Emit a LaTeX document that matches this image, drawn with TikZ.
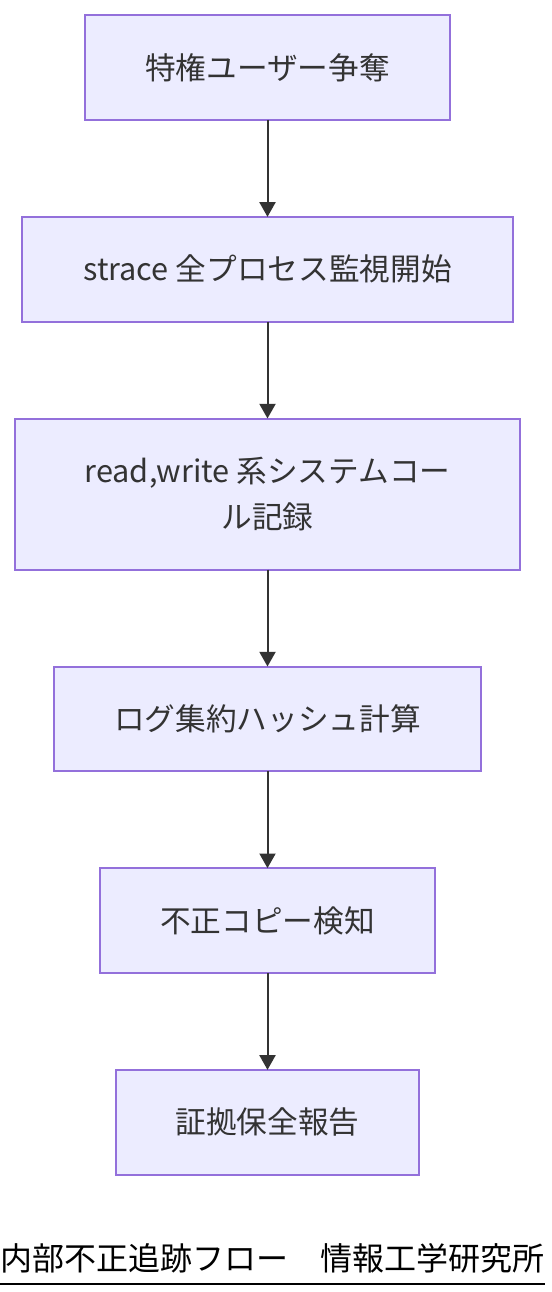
\documentclass[tikz,border=0pt]{standalone}
\usepackage{fontspec}
\setmainfont{Noto Sans CJK JP}
\usetikzlibrary{positioning,arrows.meta}
\definecolor{boxfill}{HTML}{ECECFF}
\definecolor{boxline}{HTML}{9370DB}
\definecolor{ink}{HTML}{333333}
\begin{document}
\begin{tikzpicture}[x=0.75pt,y=-0.75pt]
	\tikzset{
		step box/.style={rectangle, draw=boxline, fill=boxfill, line width=1.5pt, text=ink, align=center,
			minimum height=78.5pt, inner sep=0pt, outer sep=0pt, font=\fontsize{23}{35}\selectfont},
		flow/.style={-{Triangle[width=12pt,length=11pt]}, line width=1.5pt, ink},
		node distance=72.75pt
	}
	\useasboundingbox (0,0) rectangle (552,1292);
	% Steps
	\node (priv) at (267.5,67.5) [step box, minimum width=273.75pt] {特権ユーザー争奪};
	\node (trace) [step box, below=of priv, minimum width=368.25pt] {strace 全プロセス監視開始};
	\node (rec) [step box, below=of trace, minimum width=378.75pt, minimum height=113.25pt] {read,write 系システムコー\\ル記録};
	\node (hash) [step box, below=of rec, minimum width=320.25pt] {ログ集約ハッシュ計算};
	\node (detect) [step box, below=of hash, minimum width=251.25pt] {不正コピー検知};
	\node (report) [step box, below=of detect, minimum width=227.25pt] {証拠保全報告};

	\foreach \a/\b in {priv/trace, trace/rec, rec/hash, hash/detect, detect/report} {
		\draw[flow] (\a) -- (\b);
	}
	% Caption
	\node (cap) at (272.5,1258) [font=\fontsize{24}{28}\selectfont, inner sep=0pt] {内部不正追跡フロー　情報工学研究所};
	\draw[line width=1.5pt] (0,1284) -- (545,1284);
\end{tikzpicture}
\end{document}
